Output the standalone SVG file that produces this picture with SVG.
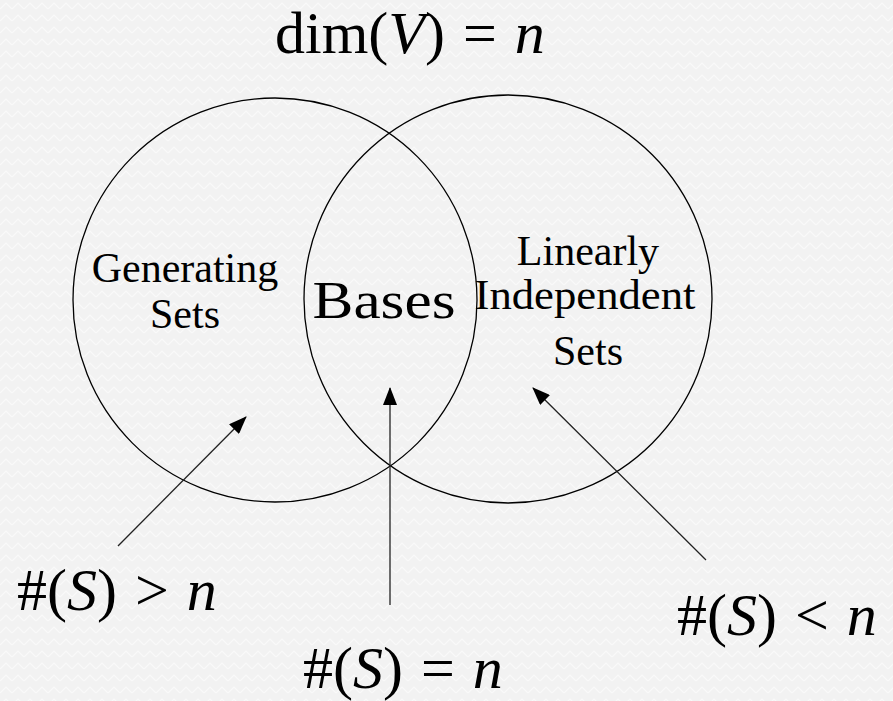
<svg xmlns="http://www.w3.org/2000/svg" width="893" height="701" viewBox="0 0 893 701">
  <style>
    .t { font-family: "Liberation Serif", "Times New Roman", serif; fill: #000; }
    .m { font-family: "Liberation Serif", "Times New Roman", serif; fill: #000; font-size: 60px; word-spacing: 3px; }
    .i { font-style: italic; }
    .lbl { font-size: 42px; text-anchor: middle; }
    .circ { fill: none; stroke: #000; stroke-width: 1.3; }
    .arr { stroke: #222; stroke-width: 1.3; fill: none; marker-end: url(#ah); }
  </style>
  <defs>
    <pattern id="bg" width="12" height="12" patternUnits="userSpaceOnUse">
      <rect width="12" height="12" fill="#f2f2f2"/>
      <path d="M0 9 L6 3 L12 9" fill="none" stroke="#fafafa" stroke-width="1.2"/>
    </pattern>
    <marker id="ah" markerUnits="userSpaceOnUse" markerWidth="18" markerHeight="14" viewBox="0 0 18 14" refX="17" refY="7" orient="auto">
      <path d="M0 0 L18 7 L0 14 Z" fill="#000"/>
    </marker>
  </defs>
  <rect width="893" height="701" fill="url(#bg)"/>

  <g id="title">
    <text class="m" x="275" y="53" font-size="66">dim(<tspan class="i">V</tspan>) = <tspan class="i">n</tspan></text>
  </g>

  <g id="generating">
    <circle class="circ" cx="275" cy="300" r="202"/>
    <text class="t lbl" x="185" y="282">Generating</text>
    <text class="t lbl" x="185" y="328">Sets</text>
  </g>

  <g id="independent">
    <circle class="circ" cx="508" cy="299" r="204"/>
    <text class="t lbl" x="588" y="265">Linearly</text>
    <text class="t lbl" x="585" y="309" textLength="221" lengthAdjust="spacingAndGlyphs">Independent</text>
    <text class="t lbl" x="588" y="365">Sets</text>
  </g>

  <g id="bases">
    <text class="t" x="384" y="318" font-size="52" text-anchor="middle" textLength="143" lengthAdjust="spacingAndGlyphs">Bases</text>
  </g>

  <g id="lbl-gt">
    <text class="m" x="17" y="610">#(<tspan class="i">S</tspan>) &gt; <tspan class="i">n</tspan></text>
  </g>
  <g id="lbl-eq">
    <text class="m" x="303" y="688">#(<tspan class="i">S</tspan>) = <tspan class="i">n</tspan></text>
  </g>
  <g id="lbl-lt">
    <text class="m" x="677" y="635">#(<tspan class="i">S</tspan>) &lt; <tspan class="i">n</tspan></text>
  </g>

  <g id="connectors">
    <line class="arr" x1="118" y1="546" x2="246" y2="417"/>
    <line class="arr" x1="390" y1="605" x2="390" y2="388"/>
    <line class="arr" x1="706" y1="560" x2="533" y2="388"/>
  </g>
</svg>
